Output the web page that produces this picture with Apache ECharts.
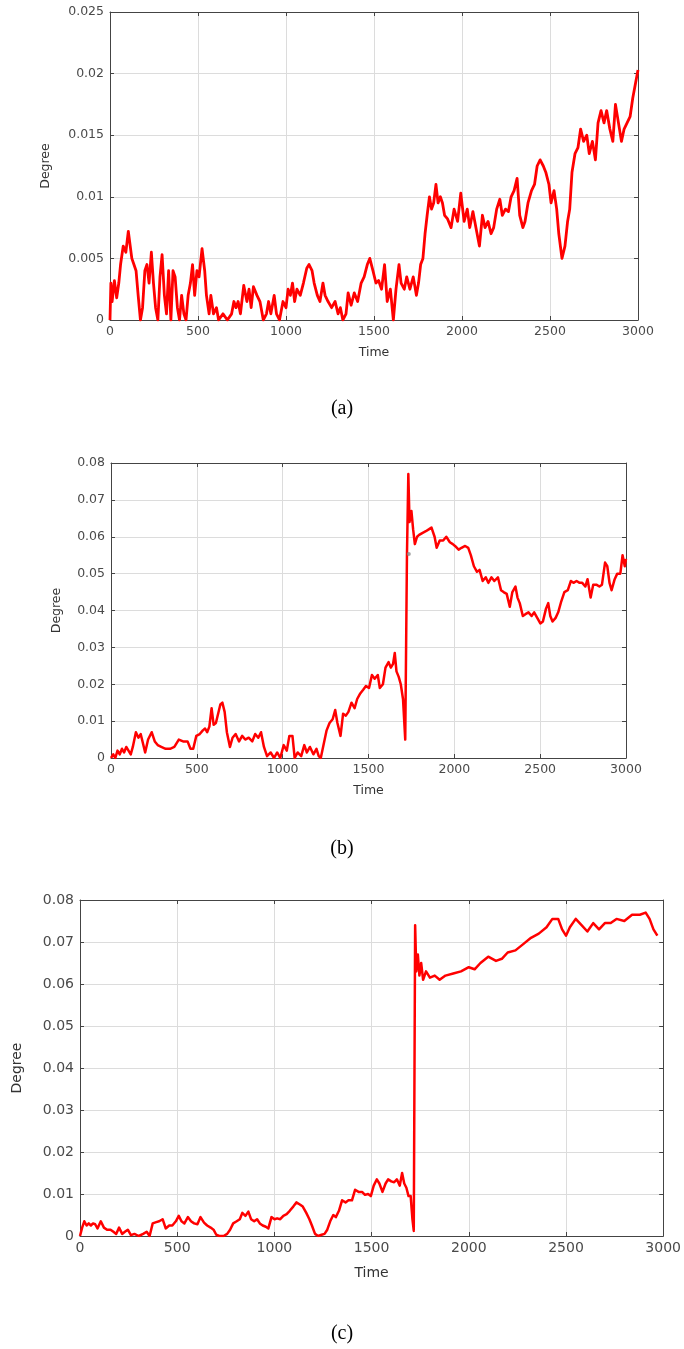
<!DOCTYPE html>
<html><head><meta charset="utf-8">
<script src="https://cdn.jsdelivr.net/npm/echarts@6/dist/echarts.min.js"></script>
<style>html,body{margin:0;padding:0;background:#fff}#c{width:684px;height:1349px}</style>
</head><body><div id="c"></div><script>
// ---- Panel (a) ----
const timeA=[0,5,12,25,38,50,60,75,90,104,124,136,148,160,173,185,198,210,222,235,247,259,272,284,296,309,321,333,346,358,370,383,395,407,420,432,444,457,469,481,494,506,523,538,548,563,573,588,605,617,642,667,691,704,716,728,741,760,778,790,802,815,835,852,871,889,901,914,933,946,963,983,1000,1012,1025,1037,1049,1062,1081,1099,1118,1131,1148,1160,1178,1193,1210,1222,1239,1259,1279,1296,1309,1323,1341,1353,1370,1388,1407,1427,1444,1462,1476,1494,1511,1526,1543,1560,1575,1593,1610,1625,1642,1654,1672,1686,1704,1723,1741,1753,1765,1778,1790,1802,1815,1827,1839,1852,1864,1877,1889,1901,1918,1938,1955,1975,1993,2012,2030,2044,2062,2079,2099,2116,2131,2148,2165,2180,2197,2215,2229,2247,2264,2279,2296,2313,2328,2346,2358,2375,2395,2412,2427,2444,2462,2476,2494,2506,2523,2538,2550,2568,2585,2600,2612,2625,2642,2659,2674,2691,2709,2723,2741,2758,2773,2790,2807,2822,2840,2857,2872,2889,2906,2921,2938,2955,2970,2983,3000];
const degreeA=[0,0.003,0.0015,0.0032,0.0018,0.003,0.0045,0.006,0.0055,0.0072,0.005,0.0045,0.004,0.002,0.0,0.001,0.004,0.0045,0.003,0.0055,0.003,0.001,0.0,0.0035,0.0053,0.002,0.0005,0.004,0.0,0.004,0.0035,0.001,0.0,0.002,0.0005,0.0,0.002,0.003,0.0045,0.002,0.004,0.0035,0.0058,0.004,0.002,0.0005,0.002,0.0005,0.001,0.0,0.0005,0.0,0.0005,0.0015,0.001,0.0015,0.0005,0.0028,0.0015,0.0025,0.001,0.0027,0.002,0.0015,0.0,0.0005,0.0015,0.0005,0.002,0.0005,0.0,0.0015,0.001,0.0025,0.002,0.003,0.0015,0.0025,0.002,0.003,0.0042,0.0045,0.004,0.003,0.002,0.0015,0.003,0.002,0.0015,0.001,0.0015,0.0005,0.001,0.0,0.0005,0.0022,0.0012,0.0022,0.0015,0.003,0.0035,0.0045,0.005,0.004,0.003,0.0032,0.0025,0.0045,0.0015,0.0025,0.0,0.0025,0.0045,0.003,0.0025,0.0035,0.0025,0.0035,0.002,0.003,0.0045,0.005,0.007,0.0085,0.01,0.009,0.0095,0.011,0.0095,0.01,0.0095,0.0085,0.0082,0.0075,0.009,0.008,0.0103,0.008,0.009,0.0075,0.0088,0.0075,0.006,0.0085,0.0075,0.008,0.007,0.0075,0.009,0.0098,0.0085,0.009,0.0088,0.01,0.0105,0.0115,0.0085,0.0075,0.008,0.0095,0.0105,0.011,0.0125,0.013,0.0125,0.012,0.011,0.0095,0.0105,0.009,0.007,0.005,0.006,0.008,0.009,0.012,0.0135,0.014,0.0155,0.0145,0.015,0.0135,0.0145,0.013,0.016,0.017,0.016,0.017,0.0155,0.0145,0.0175,0.016,0.0145,0.0155,0.016,0.0165,0.018,0.019,0.0203];
// ---- Panel (b) ----
const timeB=[0,13,25,38,51,64,76,89,102,115,127,145,160,173,186,199,216,237,255,272,293,318,344,369,395,420,446,463,479,497,517,535,548,560,573,586,598,611,624,637,649,662,675,693,708,726,746,764,782,802,823,840,858,874,891,909,930,950,968,986,1006,1024,1039,1057,1070,1087,1108,1126,1141,1159,1179,1197,1210,1222,1240,1256,1273,1291,1306,1319,1337,1352,1368,1383,1401,1419,1434,1452,1469,1485,1503,1520,1536,1554,1566,1584,1599,1617,1630,1643,1653,1663,1676,1688,1701,1714,1719,1724,1732,1739,1750,1760,1770,1783,1795,1813,1834,1851,1867,1885,1897,1915,1935,1953,1974,1991,2004,2025,2042,2063,2081,2096,2114,2132,2147,2165,2183,2198,2216,2233,2254,2272,2287,2305,2323,2338,2356,2368,2381,2399,2414,2432,2450,2465,2483,2501,2516,2534,2547,2559,2572,2590,2605,2623,2641,2661,2679,2694,2712,2730,2745,2763,2776,2794,2809,2827,2845,2860,2878,2891,2904,2916,2934,2949,2967,2980,2993,3000];
const degreeB=[0,0.001,0,0.002,0.001,0.0025,0.0015,0.003,0.002,0.001,0.003,0.007,0.0055,0.0065,0.004,0.0015,0.005,0.007,0.0045,0.0035,0.003,0.0025,0.0025,0.003,0.005,0.0045,0.0045,0.0025,0.0025,0.006,0.0065,0.0075,0.008,0.007,0.0085,0.0135,0.009,0.0095,0.012,0.0145,0.015,0.0125,0.007,0.003,0.0055,0.0065,0.0045,0.006,0.005,0.0055,0.0045,0.0065,0.0055,0.007,0.003,0.0005,0.0015,0,0.0015,0,0.0035,0.002,0.006,0.006,0,0.0015,0.0005,0.0035,0.0015,0.003,0.001,0.0025,0.0005,0,0.004,0.0075,0.0095,0.0105,0.013,0.0095,0.006,0.012,0.0115,0.0125,0.015,0.0135,0.016,0.0175,0.0185,0.0195,0.019,0.0225,0.0215,0.0225,0.019,0.02,0.0245,0.026,0.0245,0.0255,0.0285,0.0235,0.022,0.02,0.016,0.005,0.03,0.055,0.077,0.064,0.067,0.062,0.058,0.06,0.0605,0.061,0.0615,0.062,0.0625,0.06,0.057,0.059,0.059,0.06,0.0585,0.058,0.0575,0.0565,0.057,0.0575,0.057,0.055,0.052,0.0505,0.051,0.048,0.049,0.0475,0.049,0.048,0.049,0.0455,0.045,0.0445,0.041,0.045,0.0465,0.0435,0.042,0.0385,0.039,0.0395,0.0385,0.0395,0.038,0.0365,0.037,0.0405,0.042,0.0385,0.037,0.038,0.0395,0.0425,0.045,0.0455,0.048,0.0475,0.048,0.0475,0.0475,0.0465,0.0485,0.0435,0.047,0.047,0.0465,0.047,0.053,0.052,0.0475,0.0455,0.0485,0.05,0.05,0.055,0.052,0.054];
const markerB=[[1735,0.0553]];
// ---- Panel (c) ----
const timeC=[0,11,22,34,45,56,67,78,90,107,123,139,157,172,186,201,217,231,246,262,280,302,325,343,358,374,392,407,425,441,459,475,493,508,522,537,555,571,587,604,620,638,654,672,687,701,716,739,757,772,788,806,822,835,851,866,880,896,911,925,940,956,969,985,1001,1014,1030,1046,1063,1079,1097,1113,1131,1146,1164,1180,1193,1209,1225,1243,1258,1272,1287,1303,1316,1332,1348,1366,1381,1399,1415,1433,1451,1466,1482,1496,1511,1527,1540,1556,1572,1585,1601,1616,1630,1645,1657,1668,1679,1690,1701,1710,1717,1724,1730,1738,1746,1755,1765,1780,1800,1825,1850,1880,1920,1960,2000,2030,2060,2100,2140,2170,2200,2240,2280,2320,2360,2400,2430,2460,2480,2500,2520,2550,2580,2610,2640,2670,2700,2730,2760,2800,2840,2880,2910,2930,2950,2970,3000];
const degreeC=[0,0.002,0.0035,0.0025,0.003,0.0025,0.003,0.0028,0.0018,0.0035,0.002,0.0015,0.0015,0.001,0.0005,0.002,0.0005,0.001,0.0015,0.0002,0.0005,0,0.0005,0.001,0,0.003,0.0033,0.0035,0.004,0.0018,0.0025,0.0025,0.0035,0.0048,0.0035,0.003,0.0045,0.0035,0.003,0.0028,0.0045,0.0032,0.0025,0.002,0.0015,0.0003,0,0,0.0005,0.0015,0.003,0.0035,0.004,0.0055,0.0048,0.0058,0.004,0.0035,0.004,0.003,0.0025,0.0022,0.0018,0.0045,0.004,0.0042,0.004,0.0048,0.0052,0.006,0.007,0.008,0.0075,0.007,0.0055,0.004,0.0025,0.0005,0,0.0003,0.0005,0.0015,0.0035,0.005,0.0045,0.006,0.0085,0.008,0.0085,0.0085,0.011,0.0105,0.0105,0.0098,0.01,0.0095,0.012,0.0135,0.0125,0.0105,0.0125,0.0135,0.013,0.0128,0.0135,0.012,0.015,0.0125,0.0115,0.0095,0.0095,0.004,0.0012,0.074,0.063,0.067,0.062,0.065,0.061,0.063,0.0615,0.062,0.061,0.062,0.0625,0.063,0.064,0.0635,0.065,0.0665,0.0655,0.066,0.0675,0.068,0.0695,0.071,0.072,0.0735,0.0755,0.0755,0.073,0.0715,0.0735,0.0755,0.074,0.0725,0.0745,0.073,0.0745,0.0745,0.0755,0.075,0.0765,0.0765,0.077,0.0755,0.073,0.0715];
const xTicks=[0,500,1000,1500,2000,2500,3000];
const yMaxA=0.025, yStepA=0.005;
const yMaxB=0.08, yStepB=0.01;
const yMaxC=0.08, yStepC=0.01;

const zip=(t,v)=>t.map((x,i)=>[x,v[i]]);
const fmt=v=>String(+v.toFixed(4));
const panels=[
  {left:110,top:12,width:528,height:308,ymax:yMaxA,ystep:yStepA,fs:12.5,nfs:12.5,nameGapY:58,nameGapX:26,data:zip(timeA,degreeA),lw:2.8},
  {left:111,top:463,width:515,height:295,ymax:yMaxB,ystep:yStepB,fs:12.5,nfs:12.5,nameGapY:48,nameGapX:26,data:zip(timeB,degreeB),lw:2.5},
  {left:80,top:900,width:587,height:336,ymax:yMaxC,ystep:yStepC,fs:14,nfs:14,nameGapY:56,nameGapX:30,data:zip(timeC,degreeC),lw:2.5}
];
const grid=[],xAxis=[],yAxis=[],series=[];
const axisCol='#444', lblCol='#4a4a4a', gridCol='#dcdcdc';
const FONT='DejaVu Sans';
panels.forEach((p,i)=>{
  grid.push({left:p.left,top:p.top,width:p.width,height:p.height,show:false});
  const tick={show:true,inside:true,length:4,lineStyle:{color:axisCol}};
  xAxis.push({type:'value',gridIndex:i,min:0,max:3000,interval:500,position:'bottom',
    name:'Time',nameLocation:'middle',nameGap:p.nameGapX,nameTextStyle:{fontFamily:FONT,fontSize:p.nfs,color:'#333'},
    axisLine:{show:true,onZero:false,lineStyle:{color:axisCol,width:1}},axisTick:tick,
    axisLabel:{fontFamily:FONT,fontSize:p.fs,color:lblCol,margin:5,formatter:v=>String(v)},
    splitLine:{show:true,lineStyle:{color:gridCol,width:1}}});
  xAxis.push({type:'value',gridIndex:i,min:0,max:3000,interval:500,position:'top',
    axisLine:{show:true,onZero:false,lineStyle:{color:axisCol,width:1}},axisTick:tick,
    axisLabel:{show:false},splitLine:{show:false}});
  yAxis.push({type:'value',gridIndex:i,min:0,max:p.ymax,interval:p.ystep,position:'left',
    name:'Degree',nameLocation:'middle',nameGap:p.nameGapY,nameTextStyle:{fontFamily:FONT,fontSize:p.nfs,color:'#333'},
    axisLine:{show:true,onZero:false,lineStyle:{color:axisCol,width:1}},axisTick:tick,
    axisLabel:{fontFamily:FONT,fontSize:p.fs,color:lblCol,margin:6,formatter:fmt},
    splitLine:{show:true,lineStyle:{color:gridCol,width:1}}});
  yAxis.push({type:'value',gridIndex:i,min:0,max:p.ymax,interval:p.ystep,position:'right',
    axisLine:{show:true,onZero:false,lineStyle:{color:axisCol,width:1}},axisTick:tick,
    axisLabel:{show:false},splitLine:{show:false}});
  series.push({type:'line',xAxisIndex:2*i,yAxisIndex:2*i,data:p.data,showSymbol:false,symbol:'none',
    lineStyle:{color:'#ff0000',width:p.lw,join:'round'},animation:false,z:3});
});
series.push({type:'scatter',xAxisIndex:2,yAxisIndex:2,data:markerB,symbolSize:4,itemStyle:{color:'#8a8a8a'},animation:false,z:4});
const captions=[['(a)',410],['(b)',850],['(c)',1335]];
const chart=echarts.init(document.getElementById('c'),null,{renderer:'canvas'});
chart.setOption({animation:false,backgroundColor:'#fff',grid,xAxis,yAxis,series,
  graphic:captions.map(c=>({type:'text',left:'center',top:c[1]-11,style:{text:c[0],font:'20px "Liberation Serif"',fill:'#000'}}))
});
</script></body></html>
